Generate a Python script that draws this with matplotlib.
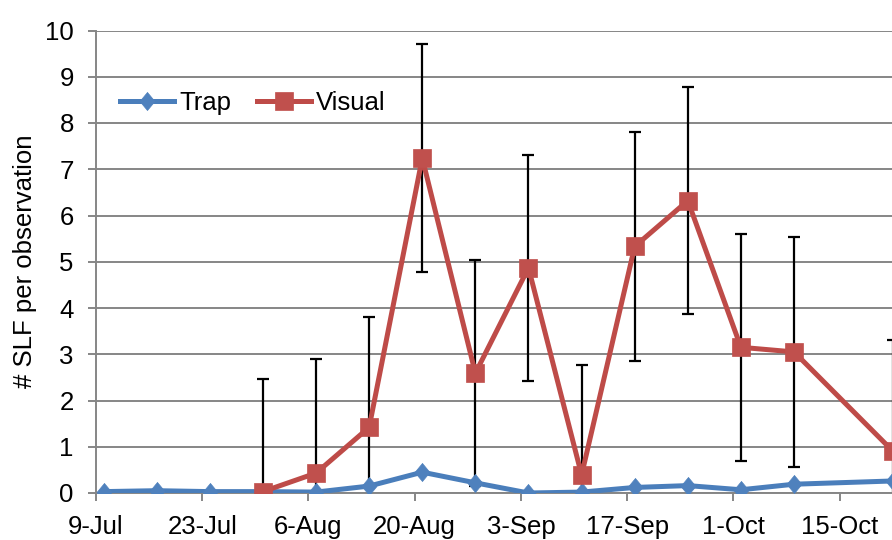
import matplotlib
matplotlib.use("Agg")
import matplotlib.pyplot as plt
import pandas as pd

plt.rcParams["font.family"] = ["Liberation Sans", "DejaVu Sans"]

# observation dates (16-Oct missing)
dates = pd.to_datetime([
    "2019-07-10", "2019-07-17", "2019-07-24", "2019-07-31", "2019-08-07",
    "2019-08-14", "2019-08-21", "2019-08-28", "2019-09-04", "2019-09-11",
    "2019-09-18", "2019-09-25", "2019-10-02", "2019-10-09", "2019-10-22",
])
trap = [0.03, 0.05, 0.03, 0.03, 0.02, 0.15, 0.45, 0.22, 0.0, 0.02,
        0.12, 0.16, 0.07, 0.19, 0.26]

visual_dates = dates[3:]
visual = [0.03, 0.43, 1.42, 7.24, 2.59, 4.87, 0.39, 5.33, 6.32, 3.15, 3.05, 0.91]
visual_err = [2.43, 2.46, 2.38, 2.47, 2.44, 2.44, 2.37, 2.48, 2.45, 2.45, 2.48, 2.39]

tick_dates = pd.to_datetime([
    "2019-07-09", "2019-07-23", "2019-08-06", "2019-08-20",
    "2019-09-03", "2019-09-17", "2019-10-01", "2019-10-15",
])
tick_labels = ["9-Jul", "23-Jul", "6-Aug", "20-Aug",
               "3-Sep", "17-Sep", "1-Oct", "15-Oct"]

W, H = 892, 540
fig = plt.figure(figsize=(W / 100, H / 100), dpi=100)
# plot area runs past the right edge of the picture (cropped chart)
ax = fig.add_axes([96 / W, 47 / H, 956 / W, 462.5 / H])

gray = "#868686"
blue_line, blue_mark = "#4A7EBB", "#4F81BD"
red_line, red_mark = "#BE4B48", "#C0504D"
diamond = [(0, 1), (0.83, 0), (0, -1), (-0.83, 0), (0, 1)]

ax.errorbar(visual_dates, visual, yerr=visual_err, fmt="none", ecolor="black",
            elinewidth=1.6, capsize=4.5, capthick=1.6, zorder=2.5)
ax.plot(dates, trap, color=blue_line, lw=3.6, marker=diamond, ms=13,
        mfc=blue_mark, mec=blue_mark, mew=0.5, label="Trap", zorder=3)
ax.plot(visual_dates, visual, color=red_line, lw=3.6, marker="s", ms=13,
        mfc=red_mark, mec=red_mark, mew=0.5, label="Visual", zorder=4)

ax.set_ylim(0, 10)
ax.set_yticks(range(0, 11))
ax.set_xlim(pd.Timestamp("2019-07-09"), pd.Timestamp("2019-11-12"))
ax.set_xticks(tick_dates)
ax.set_xticklabels(tick_labels)

ax.grid(axis="y", color=gray, lw=1.4)
ax.set_axisbelow(True)
for s in ["top", "right"]:
    ax.spines[s].set_visible(False)
for s in ["left", "bottom"]:
    ax.spines[s].set_color(gray)
    ax.spines[s].set_linewidth(1.4)
ax.tick_params(axis="both", colors=gray, length=6, width=1.4,
               labelsize=18.5, labelcolor="black", pad=10)

ax.set_ylabel("# SLF per observation", fontsize=18.5)
ax.yaxis.set_label_coords(-0.062, 0.5)

ax.legend(loc="center left", bbox_to_anchor=(120 / W, 1 - 103 / H),
          bbox_transform=fig.transFigure, ncol=2, frameon=False,
          fontsize=18.5, handlelength=2.1, handletextpad=0.2,
          columnspacing=1.0, borderpad=0, borderaxespad=0)

fig.savefig("out.png", dpi=100)
